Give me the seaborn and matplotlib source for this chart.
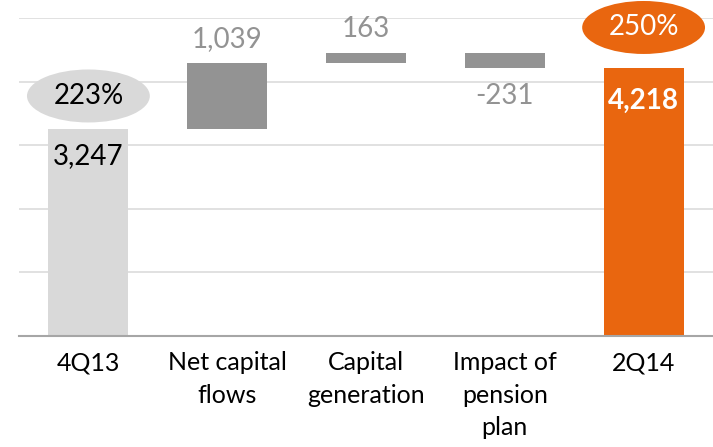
import matplotlib
matplotlib.use("Agg")
import matplotlib.pyplot as plt
from matplotlib.patches import Ellipse
import numpy as np
import seaborn as sns

# Waterfall data
categories = ["4Q13", "Net capital\nflows", "Capital\ngeneration",
              "Impact of\npension\nplan", "2Q14"]
values = [3247, 1039, 163, -231, 4218]
is_total = [True, False, False, False, True]
ratios = {"4Q13": "223%", "2Q14": "250%"}

LIGHT = "#d9d9d9"
GREY = "#939393"
ORANGE = "#e9660f"

sns.set_theme(style="white")
plt.rcParams["font.family"] = ["Lato", "DejaVu Sans"]

# bottoms for floating bars
bottoms = []
running = 0
for v, tot in zip(values, is_total):
    if tot:
        bottoms.append(0)
        running = v
    else:
        bottoms.append(running)
        running += v
colors = [LIGHT, GREY, GREY, GREY, ORANGE]

fig = plt.figure(figsize=(7.13, 4.47), dpi=100)
ax = fig.add_axes([19 / 713, 111 / 447, 1 - 19 / 713, 318 / 447])

sns.barplot(x=categories, y=values, bottom=bottoms, color=GREY,
            width=0.575, ax=ax, zorder=3)
for patch, c in zip(ax.patches, colors):
    patch.set_facecolor(c)
    patch.set_edgecolor("none")

ax.set_xlim(-0.5, 4.5)
ax.set_ylim(0, 5000)
ax.set_yticks(np.arange(0, 5001, 1000))
ax.yaxis.grid(True, color="#d9d9d9", linewidth=1.1, zorder=0)
ax.set_yticklabels([])
ax.tick_params(axis="y", length=0)
ax.tick_params(axis="x", length=0, pad=11, labelsize=18, colors="black")
for lbl in ax.get_xticklabels():
    lbl.set_linespacing(1.5)
    lbl.set_verticalalignment("top")
for side in ["top", "right", "left"]:
    ax.spines[side].set_visible(False)
ax.spines["bottom"].set_color("#a6a6a6")
ax.spines["bottom"].set_linewidth(1.5)
ax.spines["bottom"].set_zorder(4)
ax.set_xlabel("")
ax.set_ylabel("")

# value labels
for i, (v, b, tot) in enumerate(zip(values, bottoms, is_total)):
    top = max(b, b + v)
    low = min(b, b + v)
    txt = f"{v:,}"
    if i == 0:
        ax.annotate(txt, (i, top), xytext=(0, -19), textcoords="offset points",
                    ha="center", va="center", fontsize=20, color="black", zorder=5)
    elif i == len(values) - 1:
        ax.annotate(txt, (i, top), xytext=(0, -24), textcoords="offset points",
                    ha="center", va="center", fontsize=20, color="white",
                    fontweight="bold", zorder=5)
    elif v >= 0:
        ax.annotate(txt, (i, top), xytext=(0, 8), textcoords="offset points",
                    ha="center", va="bottom", fontsize=20, color=GREY, zorder=5)
    else:
        ax.annotate(txt, (i, low), xytext=(0, -11), textcoords="offset points",
                    ha="center", va="top", fontsize=20, color=GREY, zorder=5)

# ratio ellipses above totals
for i, cat in enumerate(categories):
    if cat in ratios:
        face = LIGHT if i == 0 else ORANGE
        tc = "black" if i == 0 else "white"
        off = 527 if i == 0 else 633
        cy = values[i] + off
        ax.add_patch(Ellipse((i, cy), 0.885, 833, facecolor=face,
                             edgecolor="none", clip_on=False, zorder=5))
        ax.text(i, cy, ratios[cat], ha="center", va="center", fontsize=20,
                color=tc, zorder=6, clip_on=False)

fig.savefig("out.png", dpi=100)
